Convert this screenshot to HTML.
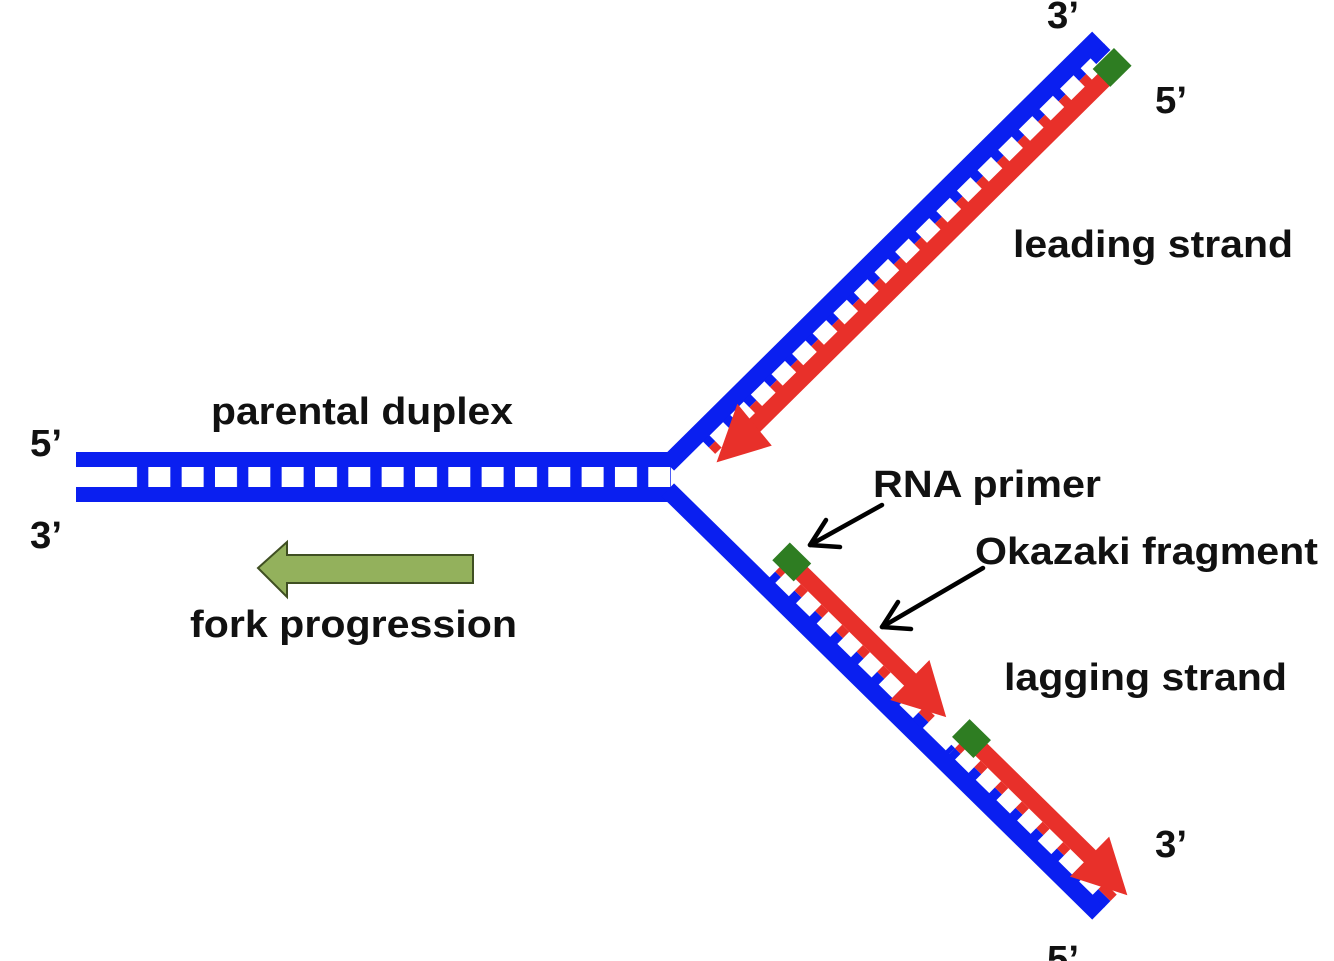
<!DOCTYPE html>
<html><head><meta charset="utf-8"><style>
html,body{margin:0;padding:0;background:#fff;}
svg{display:block;}
text{font-family:"Liberation Sans",Arial,sans-serif;font-weight:bold;font-size:38px;fill:#111;}
</style></head><body>
<svg width="1334" height="961" viewBox="0 0 1334 961" xmlns="http://www.w3.org/2000/svg">
<defs>
<pattern id="rungH" x="115" y="0" width="33.33" height="40" patternUnits="userSpaceOnUse">
<rect x="0" y="0" width="22" height="40" fill="#fff"/>
</pattern>
</defs>
<rect x="76" y="452" width="600" height="50" fill="#0a1ff0"/>
<rect x="76" y="467" width="40" height="20" fill="#fff"/>
<rect x="115" y="467" width="556" height="20" fill="url(#rungH)"/>
<rect x="671" y="467" width="10" height="20" fill="#fff"/>

<g transform="translate(672,460) rotate(-44.7)">
  <rect x="-6" y="-9" width="606" height="18" fill="#0a1ff0"/>
  <rect x="35" y="8" width="565" height="9" fill="#0a1ff0"/>
  <rect x="35" y="17" width="545" height="9" fill="#e8302a"/>
  <g fill="#fff">
    <rect x="44" y="9" width="19" height="17"/><rect x="73" y="9" width="19" height="17"/><rect x="102" y="9" width="19" height="17"/><rect x="131" y="9" width="19" height="17"/><rect x="160" y="9" width="19" height="17"/><rect x="189" y="9" width="19" height="17"/><rect x="218" y="9" width="19" height="17"/><rect x="247" y="9" width="19" height="17"/><rect x="276" y="9" width="19" height="17"/><rect x="305" y="9" width="19" height="17"/><rect x="334" y="9" width="19" height="17"/><rect x="363" y="9" width="19" height="17"/><rect x="392" y="9" width="19" height="17"/><rect x="421" y="9" width="19" height="17"/><rect x="450" y="9" width="19" height="17"/><rect x="479" y="9" width="19" height="17"/><rect x="508" y="9" width="19" height="17"/><rect x="537" y="9" width="19" height="17"/><rect x="566" y="9" width="14" height="17"/>
  </g>
  <rect x="75" y="25" width="505" height="17" fill="#e8302a"/>
  <polygon points="30,33 86,6 81,60" fill="#e8302a"/>
  <rect x="574" y="18" width="30" height="25" fill="#2e7d22"/>
</g>

<g transform="translate(672,494) rotate(44.5)">
  <rect x="-6" y="-9" width="604" height="18" fill="#0a1ff0"/>
  <rect x="128" y="-17" width="215" height="9" fill="#0a1ff0"/>
  <rect x="128" y="-26" width="215" height="9" fill="#e8302a"/>
  <rect x="380" y="-17" width="218" height="9" fill="#0a1ff0"/>
  <rect x="380" y="-26" width="218" height="9" fill="#e8302a"/>
  <rect x="343" y="-17" width="37" height="9" fill="#0a1ff0"/>
  <g fill="#fff">
    <rect x="136" y="-26" width="19" height="17"/><rect x="165" y="-26" width="19" height="17"/><rect x="194" y="-26" width="19" height="17"/><rect x="223" y="-26" width="19" height="17"/><rect x="252" y="-26" width="19" height="17"/><rect x="281" y="-26" width="19" height="17"/><rect x="310" y="-26" width="19" height="17"/><rect x="343" y="-26" width="32" height="17"/>
    <rect x="388" y="-26" width="19" height="17"/><rect x="417" y="-26" width="19" height="17"/><rect x="446" y="-26" width="19" height="17"/><rect x="475" y="-26" width="19" height="17"/><rect x="504" y="-26" width="19" height="17"/><rect x="533" y="-26" width="19" height="17"/><rect x="562" y="-26" width="19" height="17"/>
  </g>
  <rect x="140" y="-43" width="165" height="17" fill="#e8302a"/>
  <polygon points="300,-62 352,-33 300,-6" fill="#e8302a"/>
  <rect x="392" y="-43" width="165" height="17" fill="#e8302a"/>
  <polygon points="552,-62 606,-33 552,-6" fill="#e8302a"/>
  <rect x="118" y="-48" width="30" height="25" fill="#2e7d22"/>
  <rect x="370" y="-48" width="30" height="25" fill="#2e7d22"/>
</g>

<polygon points="258,568 287,542 287,555 473,555 473,583 287,583 287,597" fill="#93b15c" stroke="#3f4f22" stroke-width="2"/>

<g stroke="#000" stroke-width="4.5" fill="none" stroke-linecap="round" stroke-linejoin="round">
  <line x1="882" y1="505" x2="810" y2="545"/>
  <polyline points="840,547 810,545 826,520"/>
  <line x1="983" y1="568" x2="882" y2="627"/>
  <polyline points="911,629 882,627 898,602"/>
</g>

<text x="30" y="456" textLength="32" lengthAdjust="spacingAndGlyphs">5’</text>
<text x="30" y="548" textLength="32" lengthAdjust="spacingAndGlyphs">3’</text>
<text x="211" y="424" textLength="302" lengthAdjust="spacingAndGlyphs">parental duplex</text>
<text x="190" y="637" textLength="327" lengthAdjust="spacingAndGlyphs">fork progression</text>
<text x="1047" y="28" textLength="32" lengthAdjust="spacingAndGlyphs">3’</text>
<text x="1155" y="113" textLength="32" lengthAdjust="spacingAndGlyphs">5’</text>
<text x="1013" y="257" textLength="280" lengthAdjust="spacingAndGlyphs">leading strand</text>
<text x="873" y="497" textLength="228" lengthAdjust="spacingAndGlyphs">RNA primer</text>
<text x="975" y="564" textLength="343" lengthAdjust="spacingAndGlyphs">Okazaki fragment</text>
<text x="1004" y="690" textLength="283" lengthAdjust="spacingAndGlyphs">lagging strand</text>
<text x="1155" y="857" textLength="32" lengthAdjust="spacingAndGlyphs">3’</text>
<text x="1047" y="972" textLength="32" lengthAdjust="spacingAndGlyphs">5’</text>
</svg>
</body></html>
